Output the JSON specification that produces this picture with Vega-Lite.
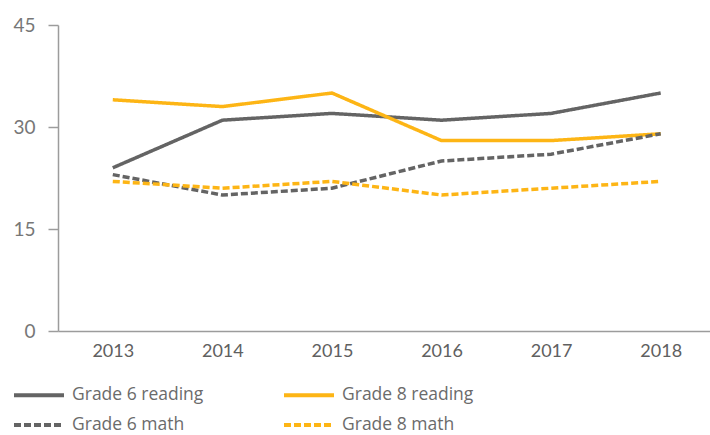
{
  "$schema": "https://vega.github.io/schema/vega-lite/v6.json",
  "width": 652,
  "height": 306,
  "autosize": {"type": "none"},
  "padding": {"left": 58, "top": 25, "right": 0, "bottom": 104},
  "config": {
    "view": {"stroke": null},
    "font": "Lato",
    "axis": {"labelFont": "Lato", "labelFontSize": 18, "labelColor": "#6b6b6b", "domainColor": "#9c9c9c", "tickColor": "#9c9c9c", "domainWidth": 1.5, "tickWidth": 1.5, "grid": false, "title": null}
  },
  "data": {
    "values": [
      {"year": 2013, "series": "Grade 6 reading", "value": 24},
      {"year": 2014, "series": "Grade 6 reading", "value": 31},
      {"year": 2015, "series": "Grade 6 reading", "value": 32},
      {"year": 2016, "series": "Grade 6 reading", "value": 31},
      {"year": 2017, "series": "Grade 6 reading", "value": 32},
      {"year": 2018, "series": "Grade 6 reading", "value": 35},
      {"year": 2013, "series": "Grade 8 reading", "value": 34},
      {"year": 2014, "series": "Grade 8 reading", "value": 33},
      {"year": 2015, "series": "Grade 8 reading", "value": 35},
      {"year": 2016, "series": "Grade 8 reading", "value": 28},
      {"year": 2017, "series": "Grade 8 reading", "value": 28},
      {"year": 2018, "series": "Grade 8 reading", "value": 29},
      {"year": 2013, "series": "Grade 6 math", "value": 23},
      {"year": 2014, "series": "Grade 6 math", "value": 20},
      {"year": 2015, "series": "Grade 6 math", "value": 21},
      {"year": 2016, "series": "Grade 6 math", "value": 25},
      {"year": 2017, "series": "Grade 6 math", "value": 26},
      {"year": 2018, "series": "Grade 6 math", "value": 29},
      {"year": 2013, "series": "Grade 8 math", "value": 22},
      {"year": 2014, "series": "Grade 8 math", "value": 21},
      {"year": 2015, "series": "Grade 8 math", "value": 22},
      {"year": 2016, "series": "Grade 8 math", "value": 20},
      {"year": 2017, "series": "Grade 8 math", "value": 21},
      {"year": 2018, "series": "Grade 8 math", "value": 22}
    ]
  },
  "mark": {"type": "line", "strokeWidth": 3.5},
  "encoding": {
    "x": {
      "field": "year", "type": "quantitative",
      "scale": {"domain": [2012.5, 2018.45], "nice": false, "zero": false},
      "axis": {"values": [2013, 2014, 2015, 2016, 2017, 2018], "format": "d", "ticks": false, "labelPadding": 11, "labelFontSize": 18, "labelColor": "#606060"}
    },
    "y": {
      "field": "value", "type": "quantitative",
      "scale": {"domain": [0, 45], "nice": false},
      "axis": {"values": [0, 15, 30, 45], "tickSize": 10, "labelPadding": 13, "labelFontSize": 19, "labelColor": "#777777"}
    },
    "color": {
      "field": "series", "type": "nominal",
      "scale": {"domain": ["Grade 6 reading", "Grade 8 reading", "Grade 6 math", "Grade 8 math"], "range": ["#646464", "#fdb515", "#646464", "#fdb515"]},
      "legend": {
        "title": null, "orient": "none", "direction": "horizontal", "legendX": -46, "legendY": 358, "columns": 2, "columnPadding": 72, "rowPadding": 9,
        "symbolType": "M-1,0H4", "symbolSize": 400, "symbolStrokeWidth": 4, "symbolOffset": 0,
        "labelFont": "Open Sans", "labelFontSize": 17.5, "labelColor": "#6b6b6b", "labelOffset": 36, "labelLimit": 300
      }
    },
    "strokeDash": {
      "field": "series", "type": "nominal",
      "scale": {"domain": ["Grade 6 reading", "Grade 8 reading", "Grade 6 math", "Grade 8 math"], "range": [[1, 0], [1, 0], [7, 3], [7, 3]]},
      "legend": {
        "title": null, "orient": "none", "direction": "horizontal", "legendX": -46, "legendY": 358, "columns": 2, "columnPadding": 72, "rowPadding": 9,
        "symbolType": "M-1,0H4", "symbolSize": 400, "symbolStrokeWidth": 4, "symbolOffset": 0,
        "labelFont": "Open Sans", "labelFontSize": 17.5, "labelColor": "#6b6b6b", "labelOffset": 36, "labelLimit": 300
      }
    }
  }
}
